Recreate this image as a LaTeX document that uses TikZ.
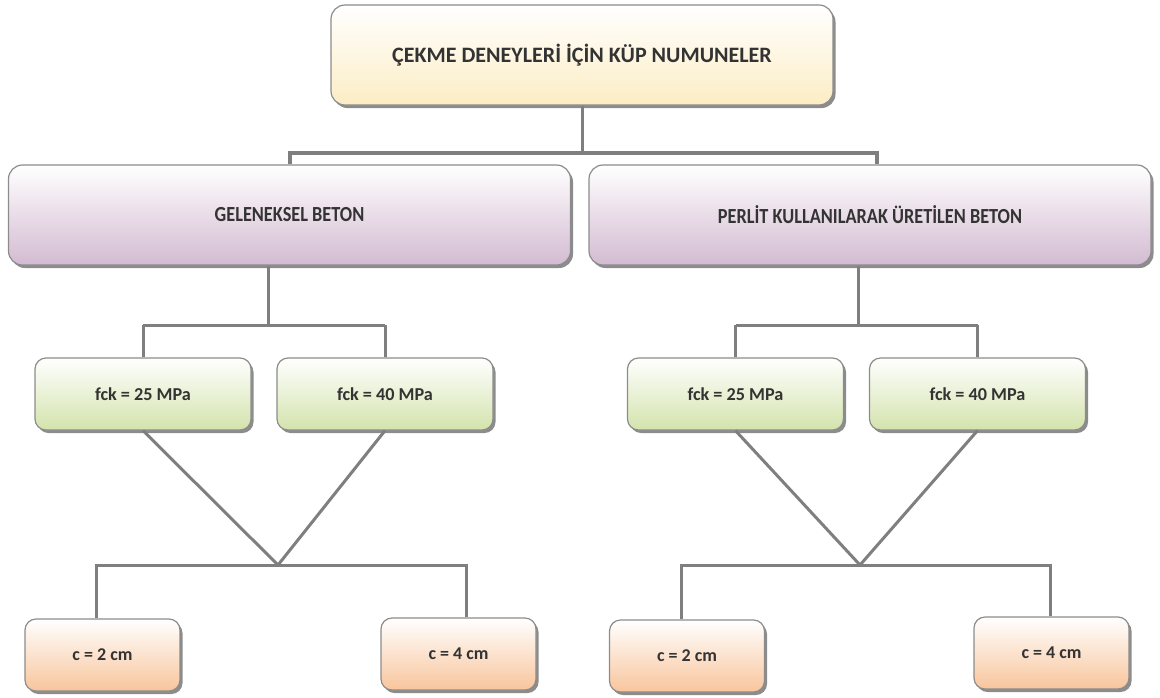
\documentclass[tikz,border=0pt]{standalone}
\usepackage{fontspec}
\setmainfont{Carlito}
\newfontfamily\condfont{Carlito}[FakeStretch=0.85]
\usetikzlibrary{shadows,calc}
\definecolor{linec}{HTML}{7F7F7F}
\definecolor{bordc}{HTML}{8C8C8C}
\definecolor{txtc}{HTML}{333333}
\definecolor{yelc}{HTML}{FBEDC4}
\definecolor{purc}{HTML}{D3BBD1}
\definecolor{grnc}{HTML}{D3E3AC}
\definecolor{orac}{HTML}{F8C59C}
\tikzset{
  box/.style={draw=bordc, line width=1.2pt, rounded corners=14pt, inner sep=0pt,
    text=txtc,
    drop shadow={shadow xshift=2.5pt, shadow yshift=-3pt, fill=black, opacity=0.45}},
  topbox/.style={box, top color=white, bottom color=yelc, minimum width=502pt, minimum height=100pt,
    font=\bfseries\fontsize{22}{26}\selectfont},
  midbox/.style={box, top color=white, bottom color=purc, minimum width=562pt, minimum height=100pt,
    font=\condfont\bfseries\fontsize{21.5}{25}\selectfont},
  grnbox/.style={box, rounded corners=11pt, top color=white, bottom color=grnc, minimum width=216pt, minimum height=72pt,
    font=\bfseries\fontsize{18.2}{22}\selectfont},
  orabox/.style={box, rounded corners=11pt, top color=white, bottom color=orac, minimum width=155pt, minimum height=72pt,
    font=\bfseries\fontsize{18}{22}\selectfont},
  conn/.style={draw=linec, line width=3pt},
  thick conn/.style={draw=linec, line width=4pt}
}
\begin{document}
\begin{tikzpicture}[x=1pt,y=1pt]
\useasboundingbox (0,0) rectangle (1160,-697);
\coordinate (hTop) at (582,-153);
\coordinate (hTopR) at (877,-153);
\coordinate (dL) at (268,-325);
\coordinate (dR) at (858,-325);
\coordinate (apL) at (278,-565);
\coordinate (apR) at (860,-565);

% boxes
\node[topbox] (top) at (582,-55) {ÇEKME DENEYLERİ İÇİN KÜP NUMUNELER};
\node[midbox] (l2l) at (289.5,-215) {GELENEKSEL BETON};
\node[midbox] (l2r) at (870,-215) {PERLİT KULLANILARAK ÜRETİLEN BETON};
\node[grnbox] (g1) at (143,-394) {fck = 25 MPa};
\node[grnbox] (g2) at (385,-394) {fck = 40 MPa};
\node[grnbox] (g3) at (735.5,-394) {fck = 25 MPa};
\node[grnbox] (g4) at (977.5,-394) {fck = 40 MPa};
\node[orabox] (o1) at (102.5,-655) {c = 2 cm};
\node[orabox] (o2) at (458.5,-654) {c = 4 cm};
\node[orabox] (o3) at (687,-656) {c = 2 cm};
\node[orabox] (o4) at (1051.5,-653) {c = 4 cm};

% top connector
\draw[conn] (top.south) -- (hTop);
\draw[thick conn] (hTop) -- (hTop -| l2l.north) -- (l2l.north);
\draw[thick conn] (hTop) -- (hTopR) -- (hTopR |- l2r.north);
% level 2 to green
\draw[conn] (l2l.south -| dL) -- (dL);
\draw[conn] (dL -| g1.north) -- (dL -| g2.north);
\draw[conn] (dL -| g1.north) -- (g1.north);
\draw[conn] (dL -| g2.north) -- (g2.north);
\draw[conn] (l2r.south -| dR) -- (dR);
\draw[conn] (dR -| g3.north) -- (dR -| g4.north);
\draw[conn] (dR -| g3.north) -- (g3.north);
\draw[conn] (dR -| g4.north) -- (g4.north);
% V shapes
\draw[conn, line join=round] (g1.south) -- (apL) -- (g2.south);
\draw[conn, line join=round] (g3.south) -- (apR) -- (g4.south);
% bottom connectors
\draw[conn] ([xshift=-6pt]o1.north) |- (apL);
\draw[conn] ([xshift=8pt]o2.north) |- (apL);
\draw[conn] ([xshift=-6pt]o3.north) |- (apR);
\draw[conn] ([xshift=-1pt]o4.north) |- (apR);
\end{tikzpicture}
\end{document}
